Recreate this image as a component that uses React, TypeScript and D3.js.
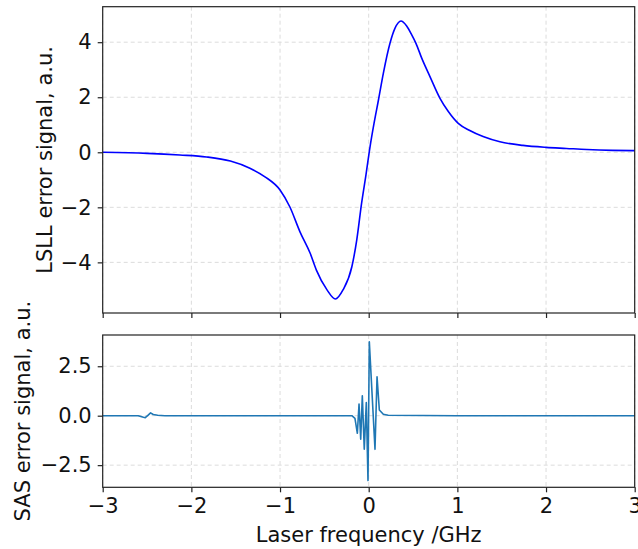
import React, { useEffect, useRef } from "react";
import * as d3 from "d3";

// LSLL error signal (top panel)
const lsllFreq = [
  -3, -2.5, -2.13, -1.83, -1.56, -1.34, -1.17, -1.0, -0.89, -0.775, -0.66, -0.59, -0.47, -0.376, -0.29, -0.19, -0.135,
  -0.08, -0.03, 0.015, 0.06, 0.11, 0.165, 0.24, 0.297, 0.364, 0.428, 0.485, 0.533, 0.598, 0.691, 0.804, 0.898, 1.01,
  1.14, 1.29, 1.48, 1.74, 2.0, 2.23, 2.46, 2.75, 3,
];
const lsllSignal = [
  0, -0.04, -0.1, -0.17, -0.32, -0.58, -0.89, -1.37, -1.98, -2.89, -3.67, -4.28, -5.0, -5.33, -5.0, -4.16, -3.19,
  -1.85, -0.8, 0.2, 1.05, 1.9, 2.87, 3.96, 4.51, 4.77, 4.59, 4.27, 3.96, 3.42, 2.75, 1.96, 1.48, 1.05, 0.79, 0.57,
  0.38, 0.25, 0.18, 0.14, 0.1, 0.07, 0.06,
];

// SAS error signal (bottom panel)
const sasFreq = [
  -3, -2.6, -2.54, -2.52, -2.49, -2.46, -2.43, -2.38, -2.3, -1, -0.19, -0.155, -0.128, -0.109, -0.09, -0.072, -0.05,
  -0.027, -0.008, 0.007, 0.071, 0.094, 0.12, 0.165, 0.22, 1, 3,
];
const sasSignal = [
  0, 0, -0.08, -0.1, 0.02, 0.14, 0.06, 0.02, 0, 0, 0, -0.13, -0.89, 0.59, -1.19, 1.01, -1.7, 0.66, -3.28, 3.74, -1.7,
  1.97, 0.29, 0.07, 0.02, 0, 0,
];

const xTicks = [-3, -2, -1, 0, 1, 2, 3];
const topYTicks = [-4, -2, 0, 2, 4];
const bottomYTicks = [-2.5, 0, 2.5];

const W = 638;
const H = 549;
const FONT = "DejaVu Sans, sans-serif";

export default function App() {
  const ref = useRef<SVGSVGElement>(null);

  useEffect(() => {
    const svg = d3.select(ref.current);
    svg.selectAll("*").remove();

    const left = 102.7,
      right = 634.7;
    const x = d3.scaleLinear().domain([-3, 3]).range([left, right]);

    const yTop = d3.scaleLinear().domain([-5.84, 5.29]).range([313, 6.7]);
    const yBot = d3.scaleLinear().domain([-3.62, 4.08]).range([487.3, 335]);

    const panel = (
      y: d3.ScaleLinear<number, number>,
      yTicks: number[],
      yFmt: (d: number) => string,
      showXLabels: boolean,
      xs: number[],
      ys: number[],
      color: string,
      curve: d3.CurveFactory,
      label: string,
      labelX: number
    ) => {
      const [y0, y1] = y.range();
      const g = svg.append("g");

      // grid
      g.selectAll(".gx")
        .data(xTicks)
        .join("line")
        .attr("x1", (d) => x(d))
        .attr("x2", (d) => x(d))
        .attr("y1", y1)
        .attr("y2", y0)
        .attr("stroke", "#dcdcdc")
        .attr("stroke-width", 1)
        .attr("stroke-dasharray", "4,3");
      g.selectAll(".gy")
        .data(yTicks)
        .join("line")
        .attr("x1", left)
        .attr("x2", right)
        .attr("y1", (d) => y(d))
        .attr("y2", (d) => y(d))
        .attr("stroke", "#dcdcdc")
        .attr("stroke-width", 1)
        .attr("stroke-dasharray", "4,3");

      // data line
      const line = d3
        .line<number>()
        .x((d, i) => x(xs[i]))
        .y((d) => y(d))
        .curve(curve);
      g.append("path")
        .attr("d", line(ys))
        .attr("fill", "none")
        .attr("stroke", color)
        .attr("stroke-width", 1.6)
        .attr("stroke-linejoin", "round");

      // axes
      const xAxis = g
        .append("g")
        .attr("transform", `translate(0,${y0})`)
        .call(
          d3
            .axisBottom(x)
            .tickValues(xTicks)
            .tickSize(5)
            .tickPadding(6)
            .tickFormat((d) => (showXLabels ? d3.format("d")(d as number) : ""))
        );
      const yAxis = g
        .append("g")
        .attr("transform", `translate(${left},0)`)
        .call(d3.axisLeft(y).tickValues(yTicks).tickSize(5).tickPadding(6).tickFormat((d) => yFmt(d as number)));
      [xAxis, yAxis].forEach((a) => {
        a.select(".domain").remove();
        a.selectAll("line").attr("stroke", "#222").attr("stroke-width", 1.2);
        a.selectAll("text").attr("font-family", FONT).attr("font-size", 21).attr("fill", "#111");
      });

      // frame
      g.append("rect")
        .attr("x", left)
        .attr("y", y1)
        .attr("width", right - left)
        .attr("height", y0 - y1)
        .attr("fill", "none")
        .attr("stroke", "#222")
        .attr("stroke-width", 1.2);

      // y label
      g.append("text")
        .attr("transform", `translate(${labelX},${(y0 + y1) / 2}) rotate(-90)`)
        .attr("text-anchor", "middle")
        .attr("font-family", FONT)
        .attr("font-size", 21)
        .attr("fill", "#111")
        .text(label);
    };

    panel(yTop, topYTicks, d3.format("d"), false, lsllFreq, lsllSignal, "#0000ff", d3.curveMonotoneX, "LSLL error signal, a.u.", 52);
    panel(yBot, bottomYTicks, d3.format(".1f"), true, sasFreq, sasSignal, "#1f77b4", d3.curveLinear, "SAS error signal, a.u.", 30);

    svg
      .append("text")
      .attr("x", (left + right) / 2)
      .attr("y", 542)
      .attr("text-anchor", "middle")
      .attr("font-family", FONT)
      .attr("font-size", 21)
      .attr("fill", "#111")
      .text("Laser frequency /GHz");
  }, []);

  return <svg ref={ref} width={W} height={H} style={{ position: "absolute", left: 0, top: 0, background: "#fff" }} />;
}
